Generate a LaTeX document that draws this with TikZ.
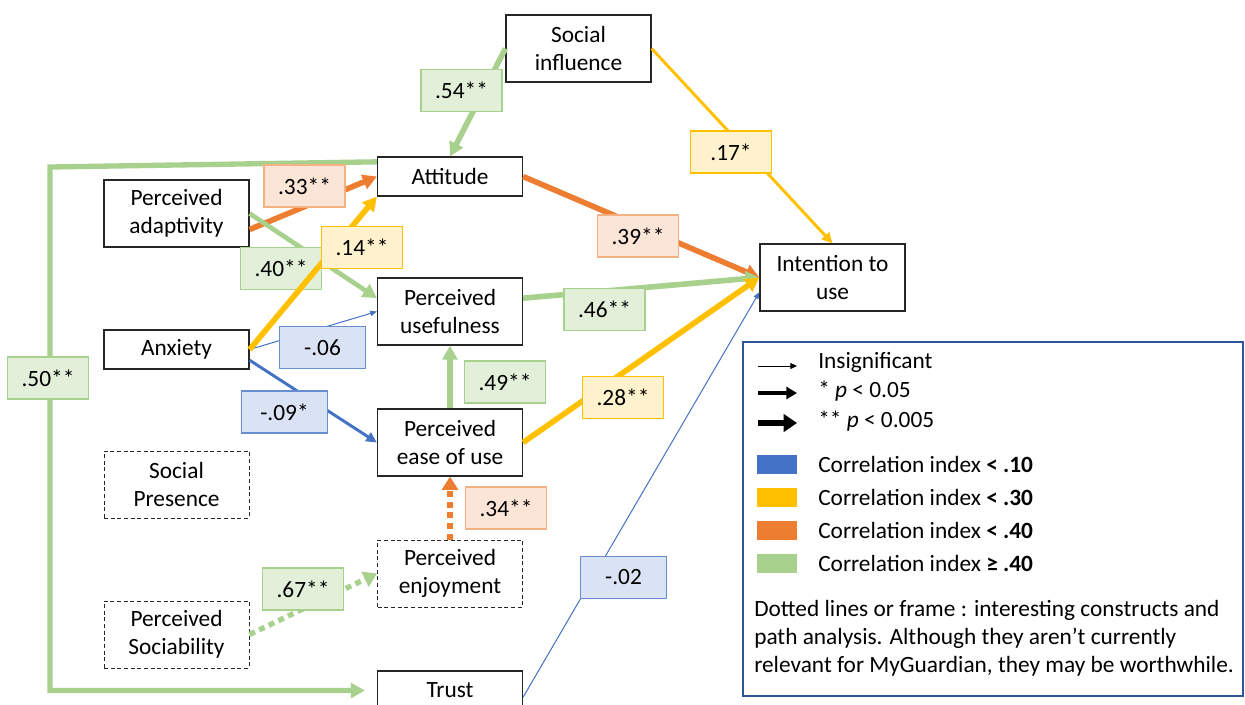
\documentclass[tikz,border=0pt]{standalone}
\usepackage{fontspec}
\setmainfont{Carlito}
\usetikzlibrary{arrows.meta}

\definecolor{cblue}{HTML}{4472C4}
\definecolor{cbluel}{HTML}{DAE3F3}
\definecolor{cyellow}{HTML}{FFC000}
\definecolor{cyellowl}{HTML}{FFF2CC}
\definecolor{corange}{HTML}{ED7D31}
\definecolor{corangel}{HTML}{FBE5D6}
\definecolor{corangeb}{HTML}{F4B183}
\definecolor{cgreen}{HTML}{A9D18E}
\definecolor{cgreenl}{HTML}{E2F0D9}
\definecolor{legframe}{HTML}{2F5597}

\begin{document}
\begin{tikzpicture}[x=0.75pt,y=-0.75pt,
  font=\fontsize{17.5}{21}\selectfont,
  construct/.style={draw=black!85,line width=0.9pt,fill=white,
    minimum width=108.75pt,minimum height=50.25pt,align=center,inner sep=2pt},
  single/.style={construct,minimum height=29.25pt},
  optional/.style={construct,dash pattern=on 3pt off 2pt,line width=0.75pt},
  coef/.style={line width=0.8pt,minimum width=60.75pt,minimum height=31.5pt,inner sep=1pt},
  labgreen/.style={coef,draw=cgreen,fill=cgreenl},
  labyellow/.style={coef,draw=cyellow,fill=cyellowl},
  laborange/.style={coef,draw=corangeb,fill=corangel},
  labblue/.style={coef,draw=cblue!80,fill=cbluel,minimum width=65pt},
  pstrong/.style={line width=4.2pt,-{Triangle[length=10.5pt,width=11pt]}},
  pweak/.style={line width=2.2pt,-{Triangle[length=8pt,width=7.5pt]}},
  pns/.style={line width=0.75pt,-{Triangle[length=5pt,width=4pt]}},
  pdots/.style={line width=4.5pt,dash pattern=on 4.5pt off 3.5pt,
    -{Triangle[length=10pt,width=12pt]}},
  swatch/.style={minimum width=30pt,minimum height=14.25pt,inner sep=0pt},
  legtext/.style={anchor=west,inner sep=0pt},
]
\clip (0,0) rectangle (1245,704);
\fill[white] (0,0) rectangle (1245,704);

% constructs
\node[construct] (si)  at (578.5,48.5)  {Social\\influence};
\node[single]    (att) at (450,176.5)   {Attitude};
\node[construct] (ad)  at (176.5,213.5) {Perceived\\adaptivity};
\node[single]    (anx) at (176.5,349.5) {Anxiety};
\node[construct] (pu)  at (450,311.5)   {Perceived\\usefulness};
\node[construct] (pe)  at (450,442.5)   {Perceived\\ease of use};
\node[optional]  (sp)  at (176.5,484.5) {Social\\Presence};
\node[optional]  (pen) at (450,573.5)   {Perceived\\enjoyment};
\node[optional]  (soc) at (176.5,634.5) {Perceived\\Sociability};
\node[single]    (tr)  at (450,690.5)   {Trust};
\node[construct] (it)  at (832.5,277.5) {Intention to\\use};

% paths
\coordinate (corner) at (50,167);
\draw[pstrong,cgreen,line width=4pt,shorten >=9pt]
  ([yshift=11pt]att.west) -- (corner) |- (tr.west);
\draw[pstrong,cgreen] (si.west) -- (att.north);
\draw[pweak,cyellow] (si.east) -- (it.north);
\draw[pstrong,corange] (att.east) -- (it.west);
\draw[pstrong,cgreen] ([yshift=10pt]pu.east) -- (it.west);
\draw[pstrong,cyellow] (pe.east) -- (it.west);
\draw[pns,cblue] ([yshift=-5pt]tr.east) -- ([yshift=-11pt]it.west);
\draw[pstrong,corange] ([yshift=-12pt]ad.east) -- (att.west);
\draw[pstrong,cgreen,line width=3.5pt] (ad.east) -- ([yshift=10pt]pu.west);
\draw[pns,cblue] (anx.east) -- (pu.west);
\draw[pweak,cblue] ([yshift=-8pt]anx.east) -- (pe.west);
\draw[pstrong,cgreen] (pe.north) -- (pu.south);
\draw[pdots,corange] (pen.north) -- (pe.south);
\draw[pdots,cgreen,line width=4pt] (soc.east) -- (pen.west);

\node[labgreen] (l40) at (281,268.5) {.40**};
\draw[pstrong,cyellow] (anx.east) -- (att.south west);

% coefficients
\node[labgreen]  (l54) at (461.5,90.5) {.54**};
\node[laborange] (l33) at (304.5,186)  {.33**};
\node[labyellow] (l14) at (362,247.5)  {.14**};
\node[laborange] (l39) at (638,236)    {.39**};
\node[labyellow] (l17) at (731,152)    {.17*};
\node[labgreen]  (l46) at (604.5,309.5) {.46**};
\node[labblue]   (l06) at (322.5,347.5) {-.06};
\node[labgreen]  (l50) at (48,378)     {.50**};
\node[labblue]   (l09) at (284.5,412)  {-.09*};
\node[labgreen]  (l49) at (505,382)    {.49**};
\node[labyellow] (l28) at (623,397.5)  {.28**};
\node[laborange] (l34) at (506,508)    {.34**};
\node[labgreen]  (l67) at (303,589)    {.67**};
\node[labblue]   (l02) at (623.5,577.5) {-.02};

% legend
\node[draw=legframe,line width=1.1pt,minimum width=375pt,minimum height=265.5pt,inner sep=0pt]
  (legend) at (993,519) {};
\coordinate (a1s) at (758,366); \coordinate (a1e) at (797,366);
\coordinate (a2s) at (758,393); \coordinate (a2e) at (797,393);
\coordinate (a3s) at (758,423); \coordinate (a3e) at (797,423);
\draw[black,line width=0.7pt,-{Triangle[length=5pt,width=4.5pt]}] (a1s) -- (a1e);
\draw[black,line width=2.8pt,-{Triangle[length=8pt,width=9pt]}] (a2s) -- (a2e);
\draw[black,line width=5pt,-{Triangle[length=10pt,width=13pt]}] (a3s) -- (a3e);
\node[legtext] (t1) at (818,362) {Insignificant};
\node[legtext] (t2) at (818,391) {* \textit{p} < 0.05};
\node[legtext] (t3) at (818,421) {** \textit{p} < 0.005};
\node[swatch,fill=cblue]   (s1) at (777,464.5) {};
\node[swatch,fill=cyellow] (s2) at (777,497.5) {};
\node[swatch,fill=corange] (s3) at (777,530.5) {};
\node[swatch,fill=cgreen]  (s4) at (777,563.5) {};
\node[legtext] (c1) at (818,464.5) {Correlation index \textbf{< .10}};
\node[legtext] (c2) at (818,497.5) {Correlation index \textbf{< .30}};
\node[legtext] (c3) at (818,530.5) {Correlation index \textbf{< .40}};
\node[legtext] (c4) at (818,563.5) {Correlation index \textbf{≥ .40}};
\node[legtext,align=left] (note) at (754,638.5)
  {Dotted lines or frame : interesting constructs and\\
   path analysis. Although they aren’t currently\\
   relevant for MyGuardian, they may be worthwhile.};
\end{tikzpicture}
\end{document}
